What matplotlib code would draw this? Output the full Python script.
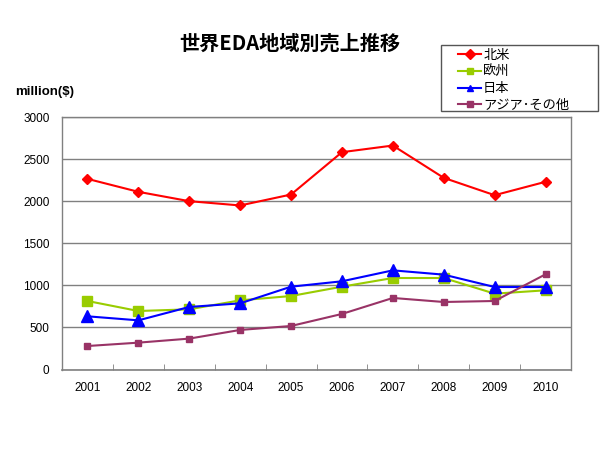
import matplotlib
matplotlib.use("Agg")
import matplotlib.pyplot as plt
from matplotlib.patches import Rectangle

plt.rcParams['font.family'] = ['Noto Sans CJK JP', 'DejaVu Sans']

years = ["2001", "2002", "2003", "2004", "2005", "2006", "2007", "2008", "2009", "2010"]
north_america = [2265, 2111, 2000, 1949, 2079, 2582, 2661, 2277, 2071, 2230]
europe = [814, 695, 715, 822, 873, 984, 1087, 1087, 901, 941]
japan = [632, 584, 743, 786, 984, 1048, 1178, 1127, 980, 980]
asia_other = [279, 319, 367, 470, 517, 660, 850, 802, 814, 1131]
series_names = ["北米", "欧州", "日本", "アジア･その他"]
yticks = [0, 500, 1000, 1500, 2000, 2500, 3000]

fig = plt.figure(figsize=(6, 4.5), dpi=100)
ax = fig.add_axes([62/600, 1-369.5/450, (571-62)/600, (369.5-117)/450])

x = list(range(len(years)))
lw = 1.5
ax.plot(x, north_america, color='#FF0000', marker='D', markersize=5.5, lw=lw, label=series_names[0], zorder=5)
ax.plot(x, europe, color='#99CC00', marker='s', markersize=7, lw=lw, label=series_names[1], zorder=3)
ax.plot(x, japan, color='#0000FF', marker='^', markersize=8, lw=lw, label=series_names[2], zorder=4)
ax.plot(x, asia_other, color='#993366', marker='s', markersize=4, lw=lw, label=series_names[3], zorder=6)

ax.set_xlim(-0.5, len(years) - 0.5)
ax.set_ylim(0, 3000)
ax.set_yticks(yticks)
ax.set_yticklabels([str(v) for v in yticks], fontfamily='Liberation Sans', fontsize=8.5)
ax.yaxis.grid(True, color='#808080', lw=1)
ax.set_axisbelow(True)
ax.tick_params(axis='y', length=0, pad=9)

ax.set_xticks(x)
ax.set_xticklabels(years, fontfamily='Liberation Sans', fontsize=8.5)
ax.tick_params(axis='x', length=0, pad=9)
ax.set_xticks([i + 0.5 for i in range(len(years) - 1)], minor=True)
ax.tick_params(axis='x', which='minor', direction='in', length=4, color='#808080')

for s in ['left', 'right', 'top']:
    ax.spines[s].set_color('#808080')
    ax.spines[s].set_linewidth(1)
ax.spines['bottom'].set_color('#808080')
ax.spines['bottom'].set_linewidth(1.2)

fig.text(290/600, 1-43/450, "世界EDA地域別売上推移", ha='center', va='center',
         fontsize=14.5, fontweight='bold')
fig.text(15/600, 1-92/450, "million($)", ha='left', va='center',
         fontsize=9.5, fontweight='bold', fontfamily='Liberation Sans')

# legend box
fig.patches.append(Rectangle((441/600, 1-111/450), (598-441)/600, (111-45)/450,
                             transform=fig.transFigure, facecolor='white',
                             edgecolor='#555555', lw=1, zorder=10))
leg = fig.legend(loc='upper left', bbox_to_anchor=(456/600, 1-47/450),
                 fontsize=9.5, frameon=False, handlelength=1.75,
                 handletextpad=0.15, labelspacing=0.28, borderpad=0.15,
                 borderaxespad=0)
leg.set_zorder(11)
for h in leg.legend_handles:
    h.set_markersize(5)

fig.savefig("out.png", dpi=100)
